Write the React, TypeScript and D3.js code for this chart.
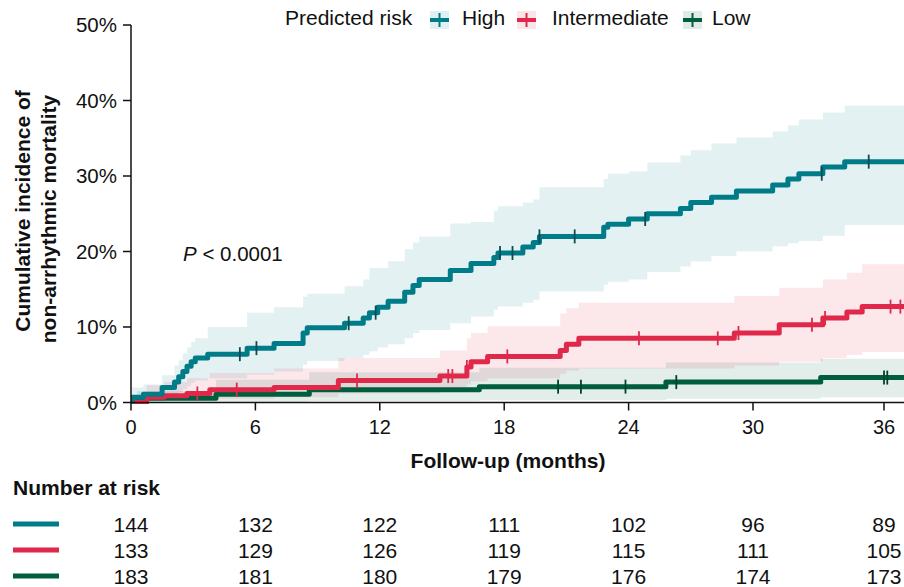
import React from "react";
import * as d3 from "d3";

// ---------- data ----------
const xTicks = [0, 6, 12, 18, 24, 30, 36];
const yTicks = [0, 0.1, 0.2, 0.3, 0.4, 0.5];
const groupNames = ["High", "Intermediate", "Low"];
const groupColors = ["#007C89", "#E0294A", "#005E3E"];
const censorColors = ["#0B4C55", "#E0294A", "#00432B"];

const highTime = [0, 0.05, 0.6, 1.5, 2.1, 2.3, 2.5, 2.7, 2.9, 3.1, 3.7, 5.6, 6.9, 8.3, 8.5, 10.3, 11.2, 11.5, 11.9, 12.4, 13.2, 13.6, 13.9, 15.4, 16.4, 17.5, 17.7, 18.9, 19.4, 19.7, 22.8, 23.0, 24.0, 24.9, 26.5, 27.0, 28.0, 29.2, 30.9, 31.6, 32.1, 33.2, 34.2];
const highEst = [0, 0.7, 1.1, 2.0, 2.7, 3.4, 4.1, 4.8, 5.4, 5.9, 6.4, 7.2, 7.8, 9.2, 9.9, 10.5, 11.2, 11.9, 12.6, 13.4, 14.6, 15.5, 16.3, 17.5, 18.4, 19.2, 19.8, 20.6, 21.2, 22.0, 23.2, 23.6, 24.3, 25.0, 25.7, 26.5, 27.2, 28.0, 28.8, 29.6, 30.3, 31.2, 31.9];
const highLower = [0, 0.1, 0.2, 0.6, 1.0, 1.4, 1.8, 2.2, 2.6, 2.9, 3.2, 3.7, 4.1, 5.0, 5.5, 5.9, 6.3, 6.8, 7.3, 7.7, 8.5, 9.2, 9.6, 10.5, 11.4, 12.3, 12.7, 13.2, 13.6, 14.7, 15.6, 16.0, 16.3, 17.3, 18.0, 18.7, 19.4, 20.0, 20.7, 21.1, 21.4, 22.1, 23.5];
const highUpper = [0, 2.0, 2.4, 3.6, 4.9, 5.6, 6.5, 7.3, 8.0, 8.5, 10.0, 11.9, 12.6, 14.0, 14.4, 15.4, 16.3, 17.8, 17.8, 18.7, 20.3, 21.2, 22.0, 23.7, 23.9, 25.4, 26.0, 26.5, 26.9, 28.5, 29.6, 30.3, 30.6, 31.8, 32.7, 33.4, 34.3, 35.1, 35.9, 36.7, 37.5, 38.4, 39.3];
const highCensor = [5.25, 6.05, 10.5, 11.8, 17.8, 18.4, 19.7, 21.4, 24.8, 33.15, 35.3];

const interTime = [0, 0.75, 1.6, 2.7, 3.8, 6.9, 10.0, 14.9, 16.2, 16.4, 17.2, 20.7, 21.0, 21.6, 29.1, 31.2, 33.2, 34.3, 35.0];
const interEst = [0, 0.7, 0.9, 1.2, 1.7, 2.0, 2.9, 3.5, 4.7, 5.4, 6.1, 6.9, 7.7, 8.5, 9.2, 10.3, 11.2, 12.0, 12.7];
const interLower = [0, 0.1, 0.2, 0.3, 0.5, 0.7, 1.2, 1.6, 2.4, 2.8, 3.2, 3.8, 4.2, 4.5, 4.9, 5.4, 5.9, 6.3, 6.7];
const interUpper = [0, 2.3, 2.7, 3.2, 3.9, 4.5, 5.9, 6.9, 8.5, 9.2, 10.1, 11.8, 12.5, 13.2, 14.1, 15.2, 16.3, 17.2, 18.3];
const interCensor = [3.2, 5.1, 10.9, 15.3, 15.5, 16.2, 18.15, 24.5, 28.3, 29.3, 32.7, 33.3, 36.3, 36.75];

const lowTime = [0, 0.3, 4.1, 8.6, 16.8, 25.8, 33.1];
const lowEst = [0, 0.55, 1.1, 1.7, 2.1, 2.7, 3.3];
const lowLower = [0, 0.0, 0.1, 0.2, 0.3, 0.5, 0.7];
const lowUpper = [0, 1.5, 3.0, 4.0, 4.6, 5.3, 5.8];
const lowCensor = [20.6, 21.7, 23.85, 26.3, 36.0, 36.15];

const atRiskHigh = [144, 132, 122, 111, 102, 96, 89];
const atRiskInter = [133, 129, 126, 119, 115, 111, 105];
const atRiskLow = [183, 181, 180, 179, 176, 174, 173];

// ---------- layout ----------
const W = 904;
const H = 587;
const FONT = "'Liberation Sans', Arial, Helvetica, sans-serif";
const X_END = 36.92;

const x = d3.scaleLinear().domain([0, 30, 36]).range([131, 753, 884]);
const y = d3.scaleLinear().domain([0, 0.5]).range([402.5, 25]);

type Pt = { t: number; e: number; l: number; u: number };

function build(time: number[], est: number[], lo: number[], hi: number[]): Pt[] {
  const pts = time.map((t, i) => ({ t, e: est[i] / 100, l: lo[i] / 100, u: hi[i] / 100 }));
  const last = pts[pts.length - 1];
  pts.push({ ...last, t: X_END });
  return pts;
}

const series = [
  { pts: build(highTime, highEst, highLower, highUpper), censor: highCensor },
  { pts: build(interTime, interEst, interLower, interUpper), censor: interCensor },
  { pts: build(lowTime, lowEst, lowLower, lowUpper), censor: lowCensor },
];
const atRisk = [atRiskHigh, atRiskInter, atRiskLow];

const line = d3
  .line<Pt>()
  .x((d) => x(d.t))
  .y((d) => y(d.e))
  .curve(d3.curveStepAfter);
const area = d3
  .area<Pt>()
  .x((d) => x(d.t))
  .y0((d) => y(d.l))
  .y1((d) => y(d.u))
  .curve(d3.curveStepAfter);

function valueAt(pts: Pt[], t: number): number {
  let v = 0;
  for (const p of pts) if (p.t <= t) v = p.e;
  return v;
}

const legendKeys = [
  { keyX: 430, textX: 462 },
  { keyX: 517, textX: 552 },
  { keyX: 683, textX: 712 },
];

export default function App() {
  const drawOrder = [2, 1, 0];
  return (
    <svg
      width={W}
      height={H}
      viewBox={`0 0 ${W} ${H}`}
      style={{ position: "absolute", left: 0, top: 0, background: "#fff" }}
      fontFamily={FONT}
    >
      <defs>
        <clipPath id="plotClip">
          <rect x={131} y={20} width={W - 131} height={384} />
        </clipPath>
      </defs>

      {/* legend */}
      <text x={285} y={25} fontSize={21} fill="#111">Predicted risk</text>
      {groupNames.map((g, i) => (
        <g key={g}>
          <rect x={legendKeys[i].keyX} y={11} width={19} height={18} fill={groupColors[i]} opacity={0.12} />
          <line x1={legendKeys[i].keyX} x2={legendKeys[i].keyX + 19} y1={20} y2={20} stroke={groupColors[i]} strokeWidth={4} />
          <line x1={legendKeys[i].keyX + 9.5} x2={legendKeys[i].keyX + 9.5} y1={13} y2={27} stroke={groupColors[i]} strokeWidth={2} />
          <text x={legendKeys[i].textX} y={25} fontSize={21} fill="#111">{g}</text>
        </g>
      ))}

      {/* bands and curves */}
      <g clipPath="url(#plotClip)">
        {[0, 1, 2].map((i) => (
          <path key={"b" + i} d={area(series[i].pts) || ""} fill={groupColors[i]} fillOpacity={0.11} stroke="none" />
        ))}
        {drawOrder.map((i) => (
          <path
            key={"l" + i}
            d={line(series[i].pts) || ""}
            fill="none"
            stroke={groupColors[i]}
            strokeWidth={5}
            strokeLinejoin="round"
          />
        ))}
        {drawOrder.map((i) =>
          series[i].censor.map((c, j) => {
            const v = valueAt(series[i].pts, c);
            return (
              <line
                key={`c${i}-${j}`}
                x1={x(c)}
                x2={x(c)}
                y1={y(v) - 7}
                y2={y(v) + 7}
                stroke={censorColors[i]}
                strokeWidth={1.8}
              />
            );
          })
        )}
      </g>

      {/* y axis */}
      <line x1={131} x2={131} y1={y(0.5)} y2={y(0) + 0.5} stroke="#111" strokeWidth={1.5} />
      {yTicks.map((t) => (
        <g key={"y" + t}>
          <line x1={123} x2={131} y1={y(t)} y2={y(t)} stroke="#111" strokeWidth={1.5} />
          <text x={117} y={y(t)} dy="0.36em" textAnchor="end" fontSize={20.5} fill="#111">
            {Math.round(t * 100) + "%"}
          </text>
        </g>
      ))}
      <text transform="translate(29.5,211) rotate(-90)" textAnchor="middle" fontSize={21} fontWeight="bold" fill="#111">
        Cumulative incidence of
      </text>
      <text transform="translate(55.5,219) rotate(-90)" textAnchor="middle" fontSize={21} fontWeight="bold" fill="#111">
        non-arrhythmic mortality
      </text>

      {/* x axis */}
      <line x1={130.25} x2={W} y1={y(0)} y2={y(0)} stroke="#111" strokeWidth={1.5} />
      {xTicks.map((t) => (
        <g key={"x" + t}>
          <line x1={x(t)} x2={x(t)} y1={y(0)} y2={y(0) + 8} stroke="#111" strokeWidth={1.5} />
          <text x={x(t)} y={434} textAnchor="middle" fontSize={20} fill="#111">{t}</text>
        </g>
      ))}
      <text x={508} y={468} textAnchor="middle" fontSize={21} fontWeight="bold" fill="#111">
        Follow-up (months)
      </text>

      {/* p value */}
      <text x={183} y={261} fontSize={20.5} fill="#111">
        <tspan fontStyle="italic">P</tspan>
        <tspan> &lt; 0.0001</tspan>
      </text>

      {/* number at risk */}
      <text x={13} y={495} fontSize={21} fontWeight="bold" fill="#111">Number at risk</text>
      {atRisk.map((row, i) => (
        <g key={"r" + i}>
          <line x1={13} x2={59} y1={524 + i * 26} y2={524 + i * 26} stroke={groupColors[i]} strokeWidth={5} />
          {row.map((n, j) => (
            <text key={j} x={x(xTicks[j])} y={531.5 + i * 26} textAnchor="middle" fontSize={21} fill="#111">
              {n}
            </text>
          ))}
        </g>
      ))}
    </svg>
  );
}
